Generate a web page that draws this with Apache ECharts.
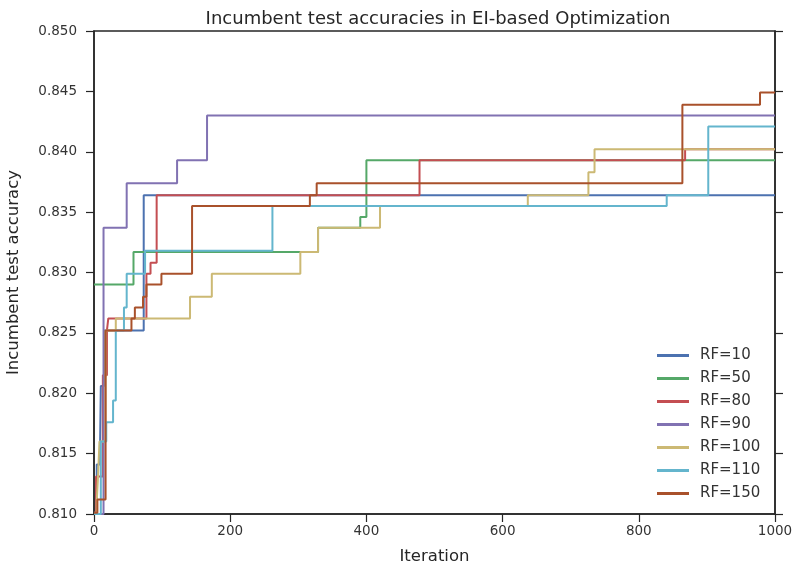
<!DOCTYPE html>
<html>
<head>
<meta charset="utf-8">
<script src="https://cdn.jsdelivr.net/npm/echarts@6/dist/echarts.min.js"></script>
<style>
  html, body { margin: 0; padding: 0; background: #fff; }
  #chart { width: 794px; height: 572px; }
</style>
</head>
<body>
<div id="chart"></div>
<script>
// incumbent curves: [iteration, accuracy] — the value holds until the next point
const rf10 = [[0, 0.8101], [4, 0.8141], [9, 0.8160], [10, 0.8206], [15, 0.8252], [73, 0.8364], [1000, 0.8364]]
const rf50 = [[0, 0.8290], [58, 0.8317], [329, 0.8337], [391, 0.8346], [400, 0.8393], [1000, 0.8393]]
const rf80 = [[0, 0.8101], [3, 0.8131], [13, 0.8215], [19, 0.8252], [21, 0.8262], [77, 0.8299], [83, 0.8308], [92, 0.8364], [478, 0.8393], [868, 0.8402], [1000, 0.8402]]
const rf90 = [[0, 0.8100], [14, 0.8337], [48, 0.8374], [122, 0.8393], [166, 0.8430], [1000, 0.8430]]
const rf100 = [[0, 0.8100], [4, 0.8110], [6, 0.8132], [8, 0.8160], [17, 0.8252], [32, 0.8262], [141, 0.8280], [173, 0.8299], [303, 0.8317], [329, 0.8337], [420, 0.8355], [637, 0.8364], [726, 0.8383], [735, 0.8402], [1000, 0.8402]]
const rf110 = [[0, 0.8100], [10, 0.8160], [18, 0.8176], [28, 0.8194], [32, 0.8252], [44, 0.8271], [48, 0.8299], [75, 0.8318], [262, 0.8355], [841, 0.8364], [902, 0.8421], [1000, 0.8421]]
const rf150 = [[0, 0.8101], [5, 0.8112], [17, 0.8252], [55, 0.8262], [60, 0.8271], [72, 0.8280], [77, 0.8290], [99, 0.8299], [144, 0.8355], [317, 0.8364], [327, 0.8374], [864, 0.8439], [978, 0.8449], [1000, 0.8449]]

const seriesNames = ['RF=10', 'RF=50', 'RF=80', 'RF=90', 'RF=100', 'RF=110', 'RF=150']
const seriesData = [rf10, rf50, rf80, rf90, rf100, rf110, rf150]
const colors = ['#4c72b0', '#55a868', '#c44e52', '#8172b2', '#ccb974', '#64b5cd', '#a9512b']

const xTicks = { min: 0, max: 1000, interval: 200 }
const yTicks = { min: 0.810, max: 0.850, interval: 0.005 }

const chart = echarts.init(document.getElementById('chart'))

const axisColor = '#262626'
const labelColor = '#333'

const option = {
  animation: false,
  backgroundColor: '#fff',
  title: {
    text: 'Incumbent test accuracies in EI-based Optimization',
    left: 433,
    top: 5,
    textAlign: 'center',
    textStyle: { fontFamily: 'DejaVu Sans', fontSize: 18, fontWeight: 'normal', color: axisColor }
  },
  grid: {
    left: 94, right: 19, top: 31, bottom: 58,
    outerBoundsMode: 'none',
    containLabel: false,
    show: true,
    borderColor: axisColor,
    borderWidth: 1.5,
    backgroundColor: '#fff'
  },
  legend: {
    orient: 'vertical',
    left: 652,
    top: 343,
    itemWidth: 32,
    itemHeight: 3,
    itemGap: 8,
    icon: 'rect',
    data: seriesNames,
    textStyle: { fontFamily: 'DejaVu Sans', fontSize: 15, color: labelColor, padding: [0, 0, 0, 6] }
  },
  xAxis: {
    type: 'value',
    min: xTicks.min,
    max: xTicks.max,
    interval: xTicks.interval,
    name: 'Iteration',
    nameLocation: 'middle',
    nameGap: 34,
    nameTextStyle: { fontFamily: 'DejaVu Sans', fontSize: 16.5, color: axisColor },
    axisLine: { show: true, lineStyle: { color: axisColor, width: 1.5 } },
    axisTick: { show: true, length: 8, lineStyle: { color: axisColor, width: 1.2 } },
    axisLabel: { fontFamily: 'DejaVu Sans', fontSize: 13.5, color: labelColor, margin: 10, formatter: v => String(v) },
    splitLine: { show: false }
  },
  yAxis: [
    {
      type: 'value',
      min: yTicks.min,
      max: yTicks.max,
      interval: yTicks.interval,
      name: 'Incumbent test accuracy',
      nameLocation: 'middle',
      nameGap: 72,
      nameTextStyle: { fontFamily: 'DejaVu Sans', fontSize: 16.5, color: axisColor },
      axisLine: { show: true, lineStyle: { color: axisColor, width: 1.5 } },
      axisTick: { show: true, length: 8, lineStyle: { color: axisColor, width: 1.2 } },
      axisLabel: {
        fontFamily: 'DejaVu Sans', fontSize: 13.5, color: labelColor, margin: 17,
        formatter: v => v.toFixed(3)
      },
      splitLine: { show: false }
    },
    {
      type: 'value',
      position: 'right',
      min: yTicks.min,
      max: yTicks.max,
      interval: yTicks.interval,
      axisLine: { show: true, lineStyle: { color: axisColor, width: 1.5 } },
      axisTick: { show: true, length: 8, lineStyle: { color: axisColor, width: 1.2 } },
      axisLabel: { show: false },
      splitLine: { show: false }
    }
  ],
  series: seriesNames.map((name, i) => ({
    name,
    type: 'line',
    step: 'end',
    data: seriesData[i],
    symbol: 'none',
    color: colors[i],
    lineStyle: { color: colors[i], width: 2 },
    z: 2 + i
  }))
}

chart.setOption(option)
</script>
</body>
</html>
